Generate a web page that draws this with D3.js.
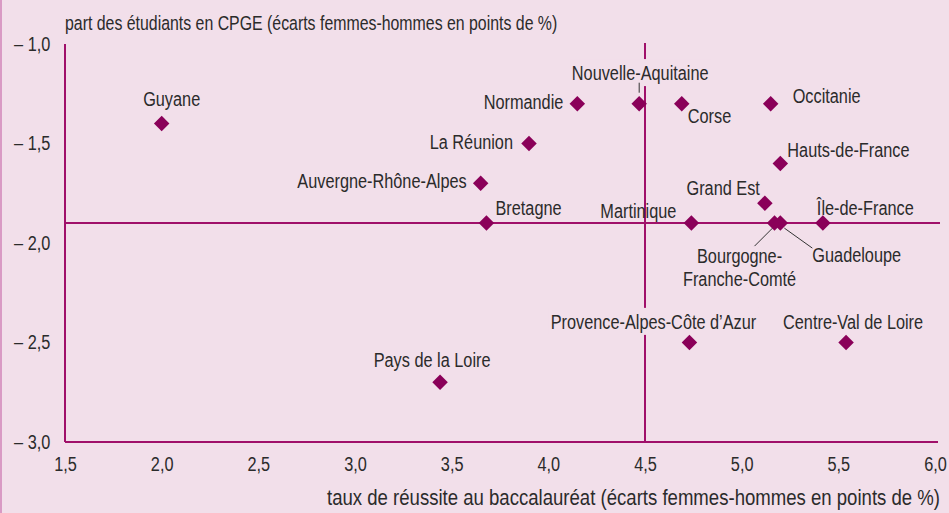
<!doctype html>
<meta charset="utf-8" />
<style>
    body { margin: 0; background: #f2dfea; }
    svg { display: block; }
    text { font-family: "Liberation Sans", Arial, sans-serif; fill: #2b2b2b; font-size: 20px; }
</style>
<svg></svg>

<script src="https://cdn.jsdelivr.net/npm/d3@7"></script>

<script>
    // données
    var regions = ['Guyane', 'Normandie', 'Nouvelle-Aquitaine', 'Corse', 'Occitanie', 'La Réunion',
        'Hauts-de-France', 'Auvergne-Rhône-Alpes', 'Grand Est', 'Bretagne', 'Martinique',
        'Bourgogne-Franche-Comté', 'Guadeloupe', 'Île-de-France', 'Provence-Alpes-Côte d’Azur',
        'Centre-Val de Loire', 'Pays de la Loire'];
    var bac = [2.0, 4.15, 4.47, 4.69, 5.15, 3.9, 5.2, 3.65, 5.12, 3.68, 4.74, 5.17, 5.2, 5.42, 4.73, 5.54, 3.44];
    var cpge = [-1.4, -1.3, -1.3, -1.3, -1.3, -1.5, -1.6, -1.7, -1.8, -1.9, -1.9, -1.9, -1.9, -1.9, -2.5, -2.5, -2.7];
    var xTicks = [1.5, 2.0, 2.5, 3.0, 3.5, 4.0, 4.5, 5.0, 5.5, 6.0];
    var yTicks = [-1.0, -1.5, -2.0, -2.5, -3.0];
    var refX = 4.5, refY = -1.9;
    var yTitle = 'part des étudiants en CPGE (écarts femmes-hommes en points de %)';
    var xTitle = 'taux de réussite au baccalauréat (écarts femmes-hommes en points de %)';

    // placement des étiquettes : [ancrage, dx, dy]
    var labelPos = {
        'Guyane': ['middle', 10, -18],
        'Normandie': ['end', -14, 5],
        'Nouvelle-Aquitaine': ['middle', 1, -24],
        'Corse': ['start', 6, 19],
        'Occitanie': ['start', 22, -1],
        'La Réunion': ['end', -16, 5],
        'Hauts-de-France': ['start', 7, -6],
        'Auvergne-Rhône-Alpes': ['end', -14, 5],
        'Grand Est': ['end', -5, -8],
        'Bretagne': ['start', 9, -8],
        'Martinique': ['end', -15, -5],
        'Bourgogne-Franche-Comté': ['middle', -35, 40],
        'Guadeloupe': ['start', 32, 39],
        'Île-de-France': ['start', -6, -8],
        'Provence-Alpes-Côte d’Azur': ['middle', -36, -14],
        'Centre-Val de Loire': ['middle', 7, -14],
        'Pays de la Loire': ['middle', -8, -15]
    };
    // étiquettes qui masquent la ligne verticale
    var masked = ['Nouvelle-Aquitaine', 'Provence-Alpes-Côte d’Azur'];

    var W = 949, H = 513;
    var lineCol = '#a0106a', markCol = '#8a0059', bg = '#f2dfea';
    var narrow = 'scale(0.815,1)';

    var svg = d3.select('svg')
        .attr('width', W)
        .attr('height', H)

    svg.append('rect').attr('width', W).attr('height', H).attr('fill', bg)
    svg.append('rect').attr('width', 2).attr('height', H).attr('fill', '#d99ac4')

    var x = d3.scaleLinear().domain([1.5, 6]).range([65, 935]);
    var y = d3.scaleLinear().domain([-1, -3]).range([44, 442]);

    var fmt = function (v) { return d3.format('.1f')(Math.abs(v)).replace('.', ','); };

    // axes
    var gx = svg.append('g')
        .attr('transform', 'translate(0,' + y(-3) + ')')
        .call(d3.axisBottom(x).tickValues(xTicks).tickSize(0).tickPadding(22).tickFormat(fmt));
    var gy = svg.append('g')
        .attr('transform', 'translate(' + x(1.5) + ',0)')
        .call(d3.axisLeft(y).tickValues(yTicks).tickSize(0).tickPadding(18)
            .tickFormat(function (v) { return '– ' + fmt(v); }));
    gx.select('.domain').remove();
    gy.select('.domain').remove();
    svg.selectAll('.tick text')
        .style('font-size', '20px').style('font-family', null)
        .attr('fill', '#2b2b2b').attr('transform', narrow);
    gx.selectAll('.tick text').attr('dy', '0.35em');

    svg.append('line')
        .attr('x1', x(1.5)).attr('x2', 938).attr('y1', y(-3)).attr('y2', y(-3))
        .attr('stroke', lineCol).attr('stroke-width', 2)
    svg.append('line')
        .attr('x1', x(1.5)).attr('x2', x(1.5)).attr('y1', y(-1)).attr('y2', y(-3))
        .attr('stroke', lineCol).attr('stroke-width', 2)

    // lignes de référence
    svg.append('line')
        .attr('x1', x(refX)).attr('x2', x(refX)).attr('y1', y(-1) - 1).attr('y2', y(-3))
        .attr('stroke', lineCol).attr('stroke-width', 2)
    svg.append('line')
        .attr('x1', x(1.5)).attr('x2', 940).attr('y1', y(refY)).attr('y2', y(refY))
        .attr('stroke', lineCol).attr('stroke-width', 2)

    // titres
    svg.append('g').attr('transform', 'translate(65,30) ' + narrow)
        .append('text').style('font-size', '19.5px').text(yTitle)
    svg.append('g').attr('transform', 'translate(940,505) ' + narrow)
        .append('text').attr('text-anchor', 'end').style('font-size', '22.8px').text(xTitle)

    var data = regions.map(function (r, i) { return { name: r, bx: bac[i], cy: cpge[i] }; });

    // étiquettes
    var labels = svg.append('g').selectAll('g').data(data).enter().append('g')
        .attr('transform', function (d) {
            var p = labelPos[d.name];
            return 'translate(' + (x(d.bx) + p[1]) + ',' + (y(d.cy) + p[2]) + ') ' + narrow;
        });
    var texts = labels.append('text')
        .attr('text-anchor', function (d) { return labelPos[d.name][0]; });
    texts.each(function (d) {
        var t = d3.select(this);
        if (d.name === 'Bourgogne-Franche-Comté') {
            t.append('tspan').attr('x', 0).attr('y', 0).text('Bourgogne-');
            t.append('tspan').attr('x', 0).attr('y', 23).text('Franche-Comté');
        } else {
            t.text(d.name);
        }
    });
    labels.filter(function (d) { return masked.indexOf(d.name) >= 0; })
        .insert('rect', 'text')
        .attr('fill', bg)
        .each(function () {
            var b = this.parentNode.querySelector('text').getBBox();
            d3.select(this).attr('x', b.x - 3).attr('y', b.y - 2).attr('width', b.width + 6).attr('height', b.height + 4);
        });

    // traits de rappel
    var leaders = [
        ['Nouvelle-Aquitaine', 0, -21, 0, -11],
        ['Bourgogne-Franche-Comté', -2, 5, -20, 23],
        ['Guadeloupe', 4, 5, 32, 25]
    ];
    leaders.forEach(function (l) {
        var i = regions.indexOf(l[0]);
        var cx = x(bac[i]), cy = y(cpge[i]);
        svg.append('line')
            .attr('x1', cx + l[1]).attr('y1', cy + l[2]).attr('x2', cx + l[3]).attr('y2', cy + l[4])
            .attr('stroke', '#333').attr('stroke-width', 1)
    });

    // points
    svg.append('g').selectAll('path').data(data).enter().append('path')
        .attr('d', d3.symbol().type(d3.symbolSquare).size(120))
        .attr('transform', function (d) { return 'translate(' + x(d.bx) + ',' + y(d.cy) + ') rotate(45)'; })
        .attr('fill', markCol)
</script>
